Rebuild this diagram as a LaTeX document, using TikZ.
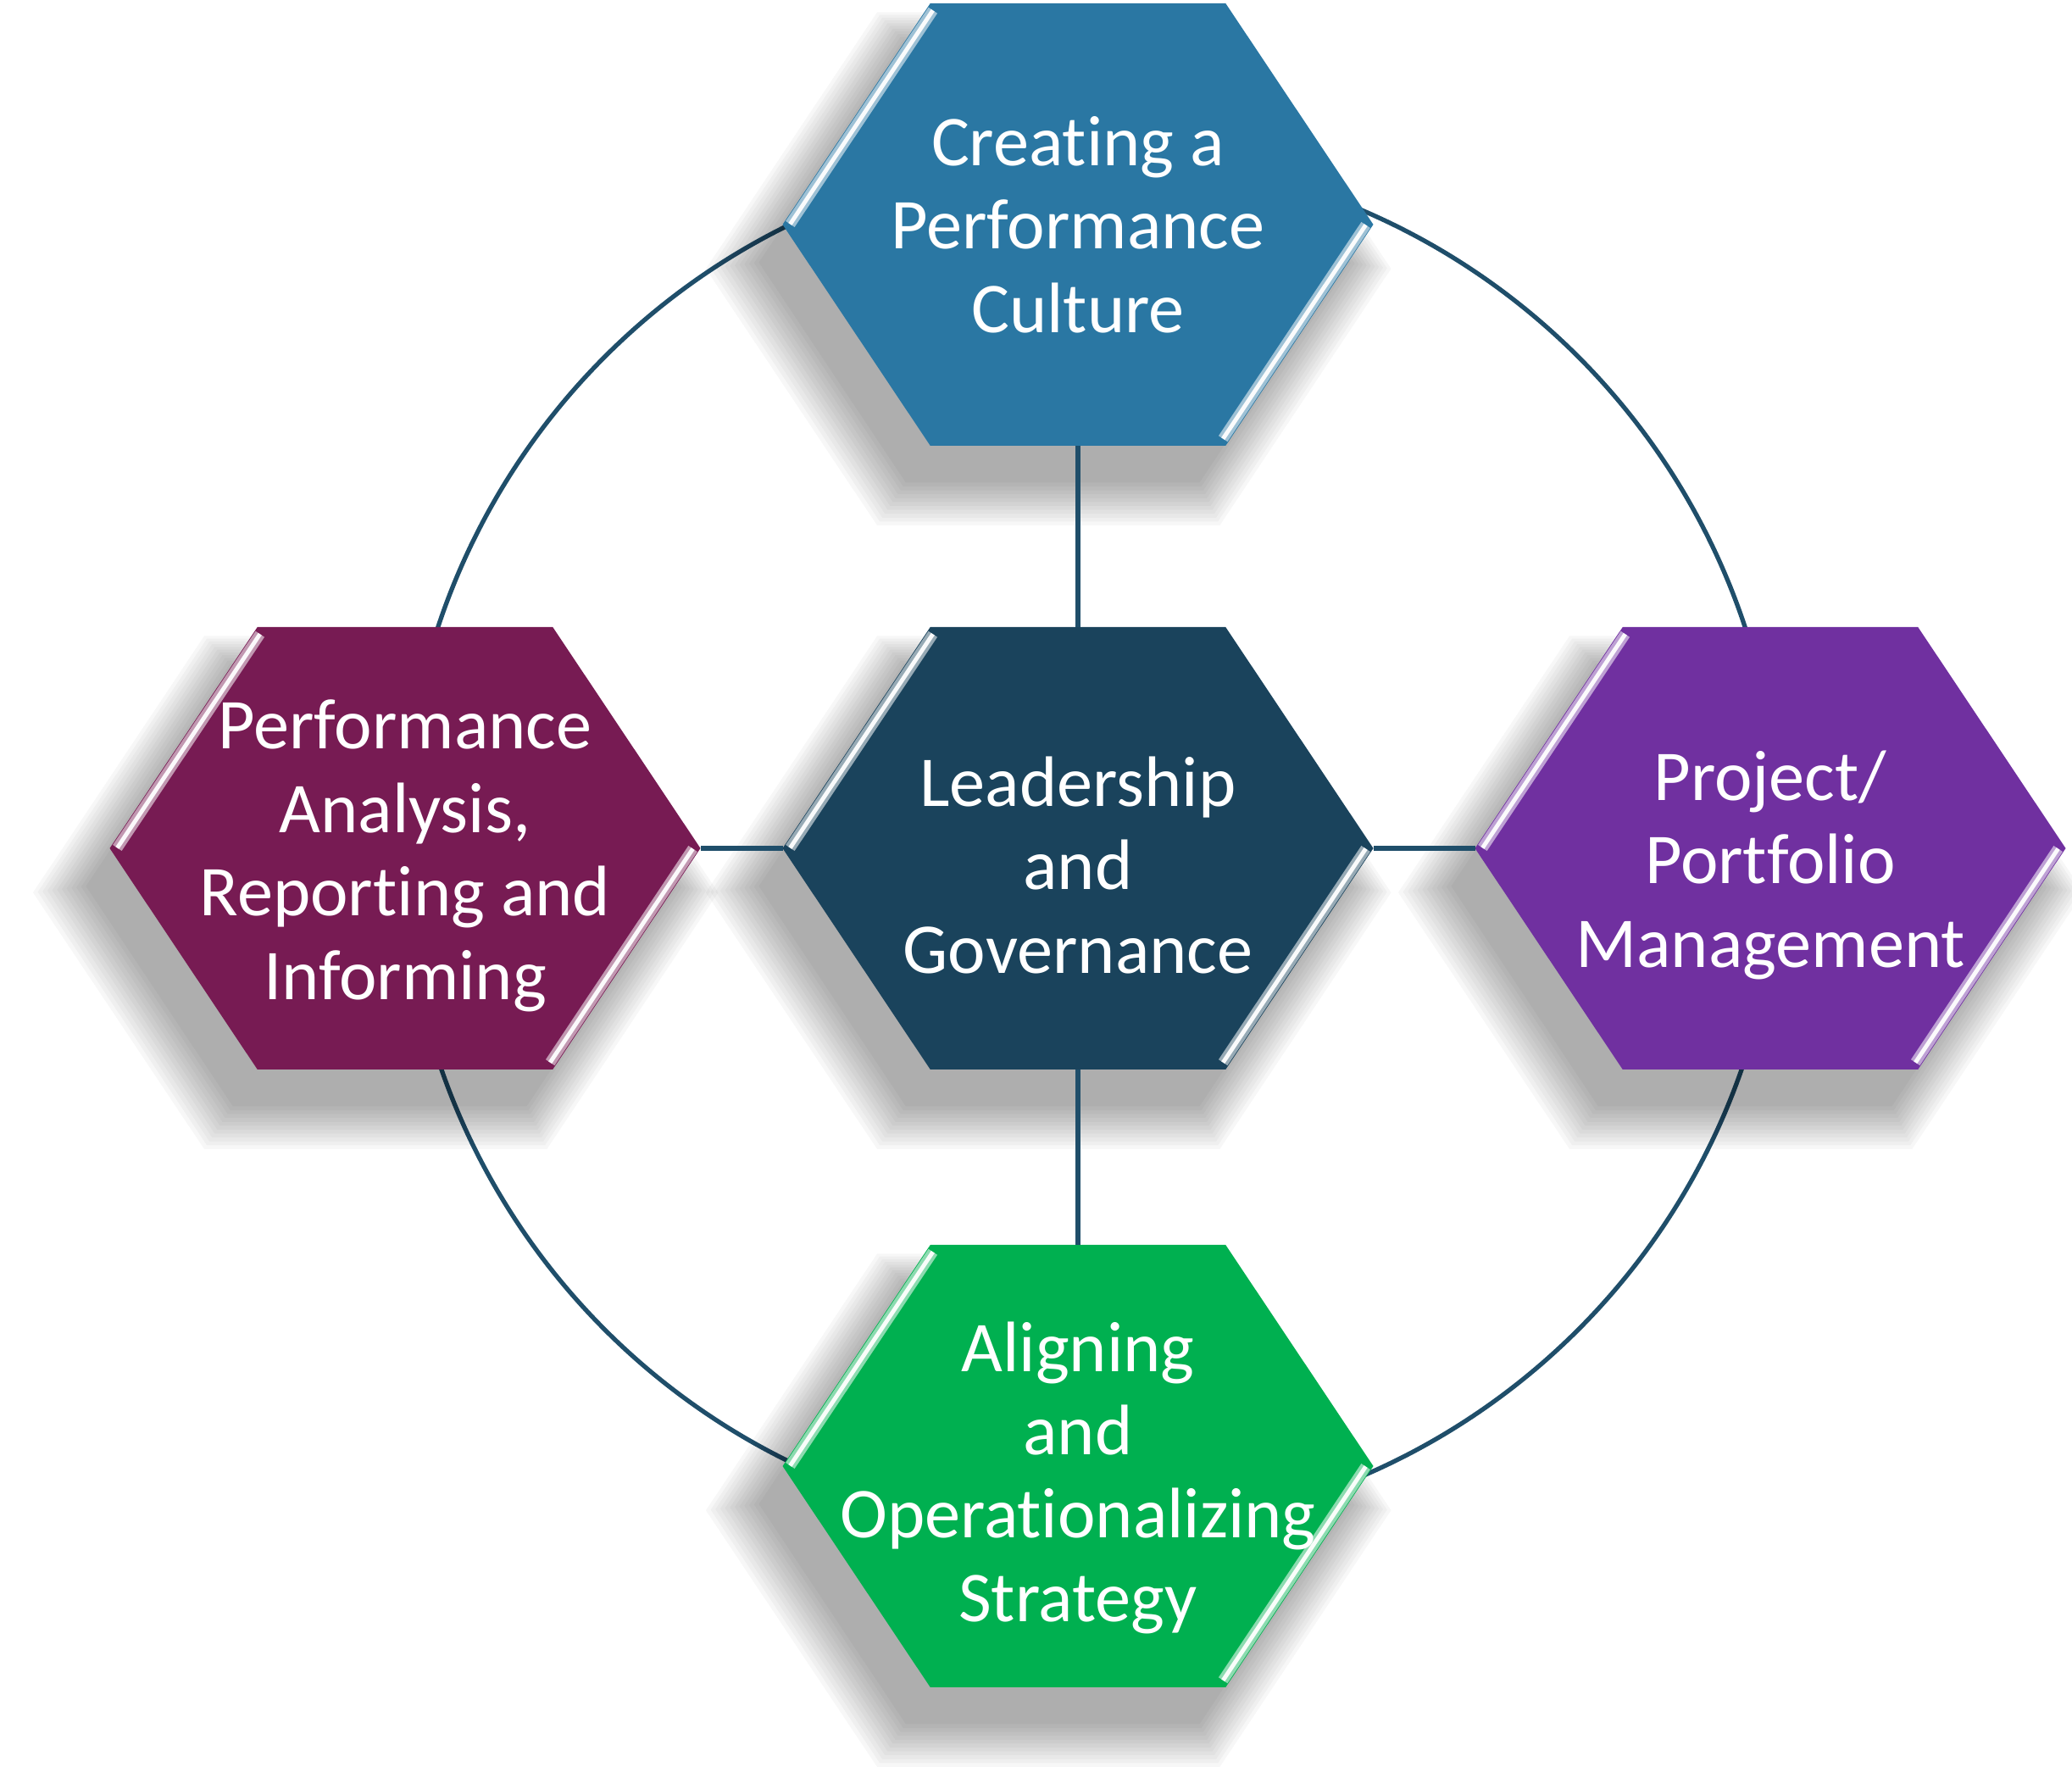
\documentclass[tikz,border=0pt]{standalone}
\usepackage{fontspec}
\setmainfont{Carlito}[Ligatures=NoCommon]
\usepackage{xcolor}
\usepackage{tikz}
\usetikzlibrary{positioning,calc,shadows,backgrounds}

\definecolor{hexblue}{HTML}{2A77A3}
\definecolor{hexnavy}{HTML}{1A435C}
\definecolor{hexplum}{HTML}{771B53}
\definecolor{hexpurple}{HTML}{7030A0}
\definecolor{hexgreen}{HTML}{00B050}
\definecolor{ringblue}{HTML}{1F4E6A}

\newcommand{\firstline}[1]{\rule{0pt}{#1}}

% flat-topped hexagon: tips at west/east, flat edges at north/south
\makeatletter
\pgfdeclareshape{hexcell}{
  \inheritsavedanchors[from=rectangle]
  \inheritanchorborder[from=rectangle]
  \inheritanchor[from=rectangle]{center}
  \inheritanchor[from=rectangle]{north}
  \inheritanchor[from=rectangle]{south}
  \inheritanchor[from=rectangle]{east}
  \inheritanchor[from=rectangle]{west}
  \inheritanchor[from=rectangle]{north west}
  \inheritanchor[from=rectangle]{north east}
  \inheritanchor[from=rectangle]{south west}
  \inheritanchor[from=rectangle]{south east}
  \backgroundpath{
    \southwest \pgf@xa=\pgf@x \pgf@ya=\pgf@y
    \northeast \pgf@xb=\pgf@x \pgf@yb=\pgf@y
    \pgf@xc=.75\pgf@xa \advance\pgf@xc by .25\pgf@xb
    \pgf@xd=.25\pgf@xa \advance\pgf@xd by .75\pgf@xb
    \pgf@yc=.5\pgf@ya \advance\pgf@yc by .5\pgf@yb
    \pgfpathmoveto{\pgfqpoint{\pgf@xa}{\pgf@yc}}
    \pgfpathlineto{\pgfqpoint{\pgf@xc}{\pgf@yb}}
    \pgfpathlineto{\pgfqpoint{\pgf@xd}{\pgf@yb}}
    \pgfpathlineto{\pgfqpoint{\pgf@xb}{\pgf@yc}}
    \pgfpathlineto{\pgfqpoint{\pgf@xd}{\pgf@ya}}
    \pgfpathlineto{\pgfqpoint{\pgf@xc}{\pgf@ya}}
    \pgfpathclose
  }
}
\makeatother

\tikzset{
  shadowlayer/.style={
    general shadow={fill=black, opacity=0.03, shadow xshift=-0.3cm,
      shadow yshift=-0.45cm, shadow scale=#1}
  },
  hexshadow/.style={
    shadowlayer/.list={1.16,1.145,1.13,1.115,1.10,1.085,1.07,1.055,1.04,1.025,1.01,0.995}
  },
  hexnode/.style={
    shape=hexcell, minimum width=6.97cm, minimum height=5.22cm,
    inner sep=0pt, outer sep=0pt, align=center, text=white,
    font=\fontsize{24}{28}\selectfont, hexshadow
  },
  ringline/.style={draw=ringblue, line width=1.5pt},
  bevel/.style={
    draw=white, line width=1.4pt, opacity=0.95,
    shorten <=1.5pt, shorten >=1.5pt,
    preaction={draw=white, line width=3.6pt, opacity=0.55}
  },
}

\begin{document}
\begin{tikzpicture}
  \useasboundingbox (0,0) rectangle (24.45,21.11);

  \node (C) [hexnode, fill=hexnavy] at (12.72,11.10) {\firstline{28pt}Leadership\\and\\Governance};
  \node (T) [hexnode, fill=hexblue, above=2.14cm of C] {Creating a\\Performance\\Culture};
  \node (B) [hexnode, fill=hexgreen, below=2.07cm of C] {\firstline{24.5pt}Aligning\\and\\Operationalizing\\Strategy};
  \node (L) [hexnode, fill=hexplum, left=0.97cm of C] {\firstline{21.5pt}Performance\\Analysis,\\Reporting and\\Informing};
  \node (R) [hexnode, fill=hexpurple, right=1.2cm of C] {\firstline{28pt}Project/\\Portfolio\\Management};

  % ring behind the cells
  \begin{scope}[on background layer]
    \draw[ringline] ([shift={(0.16,0.06)}]C.center) circle (8.12cm);
  \end{scope}

  \draw[ringline] (C.north) -- (T.south);
  \draw[ringline] (C.south) -- (B.north);
  \draw[ringline] (C.west) -- (L.east);
  \draw[ringline] (C.east) -- (R.west);

  % light bevel on two edges
  \foreach \n in {C,T,B,L,R}{
    \draw[bevel] ([shift={(1.7pt,-1.1pt)}]\n.west) -- ([xshift=-1.7425cm+1.7pt, yshift=-1.1pt]\n.north);
    \draw[bevel] ([shift={(-1.7pt,1.1pt)}]\n.east) -- ([xshift=1.7425cm-1.7pt, yshift=1.1pt]\n.south);
  }
\end{tikzpicture}
\end{document}
